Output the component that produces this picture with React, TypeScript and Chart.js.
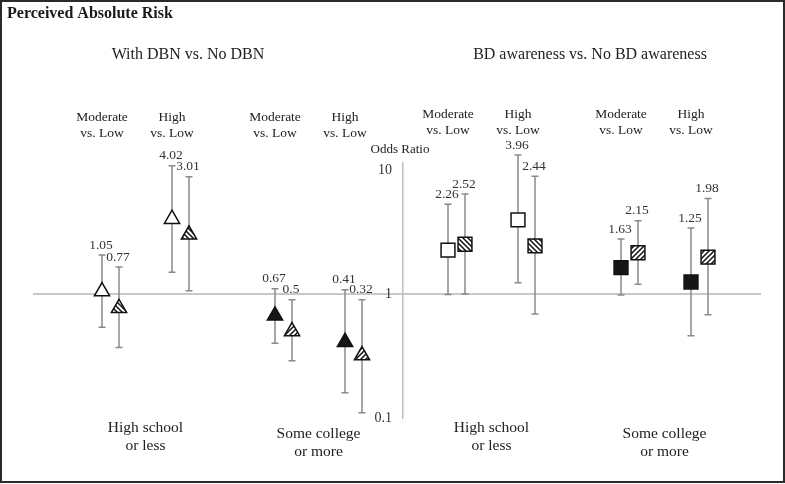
import React, { useEffect, useRef } from "react";
import { Chart, registerables } from "chart.js";

Chart.register(...registerables);

// ---------- data ----------
const chartTitle = "Perceived Absolute Risk";
const panelTitles = ["With DBN vs. No DBN", "BD awareness vs. No BD awareness"];
const groupLabels = [
  ["High school", "or less"],
  ["Some college", "or more"],
];
const comparisonLabels = [
  ["Moderate", "vs. Low"],
  ["High", "vs. Low"],
];
const yAxisTitle = "Odds Ratio";
const yTickValues = [0.1, 1, 10];
const yTickLabels = ["0.1", "1", "10"];

// order: panel (DBN, BD awareness) -> group (High school, Some college) -> comparison (Moderate, High)
const orPlain = [1.05, 4.02, 0.67, 0.41, 2.26, 3.96, 1.63, 1.25];
const ciLowPlain = [0.54, 1.5, 0.4, 0.16, 0.99, 1.23, 0.98, 0.46];
const ciHighPlain = [2.06, 10.8, 1.1, 1.08, 5.3, 13.2, 2.77, 3.4];
const orHatched = [0.77, 3.01, 0.5, 0.32, 2.52, 2.44, 2.15, 1.98];
const ciLowHatched = [0.37, 1.06, 0.29, 0.11, 1.0, 0.69, 1.2, 0.68];
const ciHighHatched = [1.65, 8.8, 0.9, 0.9, 6.4, 8.9, 3.9, 5.9];

// ---------- layout constants ----------
const GROUP_STEP = 173;
const COMP_STEP = 70;
const SERIES_STEP = 17;
const AXIS_X = 301;
const xPos = (p: number, g: number, c: number, s: number) =>
  (p * 2 + g) * GROUP_STEP + c * COMP_STEP + s * SERIES_STEP;

const SERIF = "'Liberation Serif', 'Times New Roman', serif";

export default function App() {
  const ref = useRef<HTMLCanvasElement>(null);

  useEffect(() => {
    const canvas = ref.current!;
    const mainCtx = canvas.getContext("2d")!;

    const makeHatch = (forward: boolean) => {
      const s = 5;
      const c = document.createElement("canvas");
      c.width = s;
      c.height = s;
      const g = c.getContext("2d")!;
      g.fillStyle = "#fff";
      g.fillRect(0, 0, s, s);
      g.strokeStyle = "#111";
      g.lineWidth = 1.5;
      g.beginPath();
      if (forward) {
        g.moveTo(-1, s + 1);
        g.lineTo(s + 1, -1);
        g.moveTo(-2, 2);
        g.lineTo(2, -2);
        g.moveTo(s - 2, s + 2);
        g.lineTo(s + 2, s - 2);
      } else {
        g.moveTo(-1, -1);
        g.lineTo(s + 1, s + 1);
        g.moveTo(s - 2, -2);
        g.lineTo(s + 2, 2);
        g.moveTo(-2, s - 2);
        g.lineTo(2, s + 2);
      }
      g.stroke();
      return mainCtx.createPattern(c, "repeat")!;
    };
    const hatchBack = makeHatch(false);
    const hatchFwd = makeHatch(true);

    const datasets: any[] = [];
    for (let p = 0; p < 2; p++) {
      for (let g = 0; g < 2; g++) {
        for (let s = 0; s < 2; s++) {
          const base = p * 4 + g * 2;
          const ors = s === 0 ? orPlain : orHatched;
          const los = s === 0 ? ciLowPlain : ciLowHatched;
          const his = s === 0 ? ciHighPlain : ciHighHatched;
          const fill =
            s === 1 ? (g === 0 ? hatchBack : hatchFwd) : g === 0 ? "#ffffff" : "#161616";
          datasets.push({
            label: `${p}-${g}-${s}`,
            data: [0, 1].map((c) => ({
              x: xPos(p, g, c, s),
              y: ors[base + c],
              lo: los[base + c],
              hi: his[base + c],
            })),
            showLine: false,
            pointStyle: p === 0 ? "triangle" : "rect",
            pointRadius: p === 0 ? 8.8 : 9.8,
            pointHoverRadius: p === 0 ? 8.8 : 9.8,
            pointBackgroundColor: fill,
            pointBorderColor: "#111",
            pointBorderWidth: 1.5,
            clip: false,
          });
        }
      }
    }

    const overlay = {
      id: "overlay",
      beforeDatasetsDraw(chart: any) {
        const ctx = chart.ctx;
        const xs = chart.scales.x;
        const ys = chart.scales.y;
        ctx.save();
        ctx.strokeStyle = "#8a8a8a";
        ctx.lineWidth = 1.5;
        chart.data.datasets.forEach((ds: any) => {
          ds.data.forEach((d: any) => {
            const x = xs.getPixelForValue(d.x);
            const y1 = ys.getPixelForValue(d.lo);
            const y2 = ys.getPixelForValue(d.hi);
            ctx.beginPath();
            ctx.moveTo(x, y1);
            ctx.lineTo(x, y2);
            ctx.moveTo(x - 3.5, y1);
            ctx.lineTo(x + 3.5, y1);
            ctx.moveTo(x - 3.5, y2);
            ctx.lineTo(x + 3.5, y2);
            ctx.stroke();
          });
        });
        ctx.restore();
      },
      afterDraw(chart: any) {
        const ctx = chart.ctx;
        const xs = chart.scales.x;
        const ys = chart.scales.y;
        const axisPx = xs.getPixelForValue(AXIS_X);
        ctx.save();
        // frame
        ctx.strokeStyle = "#2a2a2a";
        ctx.lineWidth = 2;
        ctx.strokeRect(1, 1, 783, 481);

        // title
        ctx.fillStyle = "#1a1a1a";
        ctx.textBaseline = "middle";
        ctx.textAlign = "left";
        ctx.font = `bold 16px ${SERIF}`;
        ctx.fillText(chartTitle, 7, 14);

        // y tick labels
        ctx.textAlign = "right";
        ctx.fillStyle = "#333";
        ctx.font = `14px ${SERIF}`;
        yTickValues.forEach((v, i) => {
          ctx.fillText(yTickLabels[i], axisPx - 11, ys.getPixelForValue(v));
        });

        // panel titles
        ctx.textAlign = "center";
        ctx.fillStyle = "#222";
        ctx.font = `16px ${SERIF}`;
        const panelCenters = [86, 488];
        panelTitles.forEach((t, p) => {
          ctx.fillText(t, xs.getPixelForValue(panelCenters[p]), 55);
        });

        // comparison headers
        ctx.font = `13.5px ${SERIF}`;
        for (let p = 0; p < 2; p++) {
          const y0 = p === 0 ? 117 : 114;
          for (let g = 0; g < 2; g++) {
            for (let c = 0; c < 2; c++) {
              const x = xs.getPixelForValue(xPos(p, g, c, 0));
              ctx.fillText(comparisonLabels[c][0], x, y0);
              ctx.fillText(comparisonLabels[c][1], x, y0 + 16);
            }
          }
        }

        // group labels
        ctx.font = `15.5px ${SERIF}`;
        for (let p = 0; p < 2; p++) {
          for (let g = 0; g < 2; g++) {
            const xa = xs.getPixelForValue(xPos(p, g, 0, 0));
            const xb = xs.getPixelForValue(xPos(p, g, 1, 1));
            const x = (xa + xb) / 2;
            const y0 = g === 0 ? 428 : 434;
            ctx.fillText(groupLabels[g][0], x, y0);
            ctx.fillText(groupLabels[g][1], x, y0 + 18);
          }
        }

        // axis title
        ctx.font = `13px ${SERIF}`;
        ctx.fillText(yAxisTitle, axisPx - 3, 150);

        // value labels
        ctx.fillStyle = "#333";
        ctx.font = `13.5px ${SERIF}`;
        chart.data.datasets.forEach((ds: any) => {
          ds.data.forEach((d: any) => {
            const x = xs.getPixelForValue(d.x);
            const y = ys.getPixelForValue(d.hi);
            ctx.fillText(String(d.y), x - 1, y - 10);
          });
        });
        ctx.restore();
      },
    };

    const chart = new Chart(canvas, {
      type: "scatter",
      data: { datasets },
      options: {
        animation: false,
        responsive: false,
        events: [],
        layout: { padding: { left: 34, right: 25, top: 163, bottom: 66 } },
        plugins: { legend: { display: false }, tooltip: { enabled: false } },
        scales: {
          x: {
            type: "linear",
            min: -68,
            max: 658,
            position: { y: 1 } as any,
            grid: { display: false, drawTicks: false },
            ticks: { display: false },
            border: { color: "#c8c8c8", width: 2 },
          },
          y: {
            type: "logarithmic",
            min: 0.1,
            max: 11.38,
            position: { x: AXIS_X } as any,
            grid: { display: false, drawTicks: false },
            border: { color: "#c0c0c0", width: 1.5 },
            ticks: { display: false },
            afterBuildTicks: (scale: any) => {
              scale.ticks = yTickValues.map((v) => ({ value: v }));
            },
          },
        },
      },
      plugins: [overlay],
    });
    return () => chart.destroy();
  }, []);

  return (
    <div style={{ position: "fixed", left: 0, top: 0, width: 785, height: 484, background: "#fff" }}>
      <canvas ref={ref} width={785} height={484} style={{ display: "block" }} />
    </div>
  );
}
